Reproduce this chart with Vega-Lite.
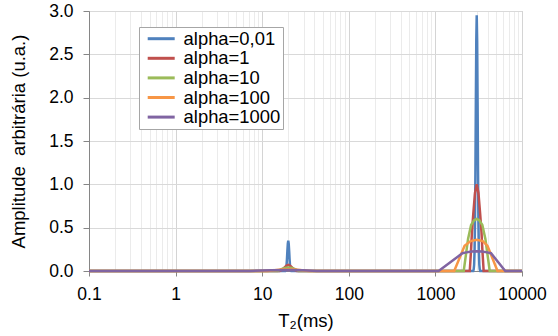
{
  "$schema": "https://vega.github.io/schema/vega-lite/v6.json",
  "width": 433,
  "height": 260,
  "autosize": {"type": "none"},
  "padding": {"left": 89, "top": 11, "right": 36, "bottom": 65},
  "background": "white",
  "config": {
    "font": "Liberation Sans",
    "view": {"stroke": "#bfbfbf", "strokeWidth": 1}
  },
  "data": {
    "values": [
      {"s": "alpha=0,01", "t": 0.1, "a": 0},
      {"s": "alpha=0,01", "t": 18.45, "a": 0},
      {"s": "alpha=0,01", "t": 18.67, "a": 0.008},
      {"s": "alpha=0,01", "t": 18.88, "a": 0.026},
      {"s": "alpha=0,01", "t": 19.10, "a": 0.067},
      {"s": "alpha=0,01", "t": 19.32, "a": 0.138},
      {"s": "alpha=0,01", "t": 19.54, "a": 0.232},
      {"s": "alpha=0,01", "t": 19.77, "a": 0.316},
      {"s": "alpha=0,01", "t": 20, "a": 0.35},
      {"s": "alpha=0,01", "t": 20.23, "a": 0.316},
      {"s": "alpha=0,01", "t": 20.47, "a": 0.232},
      {"s": "alpha=0,01", "t": 20.70, "a": 0.138},
      {"s": "alpha=0,01", "t": 20.94, "a": 0.067},
      {"s": "alpha=0,01", "t": 21.19, "a": 0.026},
      {"s": "alpha=0,01", "t": 21.43, "a": 0.008},
      {"s": "alpha=0,01", "t": 21.68, "a": 0},
      {"s": "alpha=0,01", "t": 2736, "a": 0},
      {"s": "alpha=0,01", "t": 2768, "a": 0.019},
      {"s": "alpha=0,01", "t": 2800, "a": 0.072},
      {"s": "alpha=0,01", "t": 2832, "a": 0.223},
      {"s": "alpha=0,01", "t": 2865, "a": 0.565},
      {"s": "alpha=0,01", "t": 2898, "a": 1.16},
      {"s": "alpha=0,01", "t": 2932, "a": 1.95},
      {"s": "alpha=0,01", "t": 2966, "a": 2.66},
      {"s": "alpha=0,01", "t": 3000, "a": 2.95},
      {"s": "alpha=0,01", "t": 3035, "a": 2.66},
      {"s": "alpha=0,01", "t": 3070, "a": 1.95},
      {"s": "alpha=0,01", "t": 3105, "a": 1.16},
      {"s": "alpha=0,01", "t": 3141, "a": 0.565},
      {"s": "alpha=0,01", "t": 3178, "a": 0.223},
      {"s": "alpha=0,01", "t": 3215, "a": 0.072},
      {"s": "alpha=0,01", "t": 3252, "a": 0.019},
      {"s": "alpha=0,01", "t": 3290, "a": 0},
      {"s": "alpha=0,01", "t": 10000, "a": 0},

      {"s": "alpha=1", "t": 0.1, "a": 0},
      {"s": "alpha=1", "t": 15.89, "a": 0},
      {"s": "alpha=1", "t": 16.64, "a": 0.01},
      {"s": "alpha=1", "t": 17.42, "a": 0.025},
      {"s": "alpha=1", "t": 18.24, "a": 0.045},
      {"s": "alpha=1", "t": 19.10, "a": 0.062},
      {"s": "alpha=1", "t": 20, "a": 0.07},
      {"s": "alpha=1", "t": 20.94, "a": 0.062},
      {"s": "alpha=1", "t": 21.93, "a": 0.045},
      {"s": "alpha=1", "t": 22.96, "a": 0.025},
      {"s": "alpha=1", "t": 24.05, "a": 0.01},
      {"s": "alpha=1", "t": 25.18, "a": 0},
      {"s": "alpha=1", "t": 2495, "a": 0},
      {"s": "alpha=1", "t": 2583, "a": 0.25},
      {"s": "alpha=1", "t": 2643, "a": 0.45},
      {"s": "alpha=1", "t": 2736, "a": 0.655},
      {"s": "alpha=1", "t": 2865, "a": 0.9},
      {"s": "alpha=1", "t": 3000, "a": 1.0},
      {"s": "alpha=1", "t": 3141, "a": 0.9},
      {"s": "alpha=1", "t": 3290, "a": 0.655},
      {"s": "alpha=1", "t": 3405, "a": 0.45},
      {"s": "alpha=1", "t": 3484, "a": 0.25},
      {"s": "alpha=1", "t": 3607, "a": 0},
      {"s": "alpha=1", "t": 10000, "a": 0},

      {"s": "alpha=10", "t": 0.1, "a": 0},
      {"s": "alpha=10", "t": 15.17, "a": 0},
      {"s": "alpha=10", "t": 16.64, "a": 0.022},
      {"s": "alpha=10", "t": 18.24, "a": 0.035},
      {"s": "alpha=10", "t": 20, "a": 0.04},
      {"s": "alpha=10", "t": 21.93, "a": 0.035},
      {"s": "alpha=10", "t": 24.05, "a": 0.022},
      {"s": "alpha=10", "t": 26.37, "a": 0},
      {"s": "alpha=10", "t": 2124, "a": 0},
      {"s": "alpha=10", "t": 2383, "a": 0.37},
      {"s": "alpha=10", "t": 2583, "a": 0.53},
      {"s": "alpha=10", "t": 2800, "a": 0.585},
      {"s": "alpha=10", "t": 3000, "a": 0.6},
      {"s": "alpha=10", "t": 3215, "a": 0.585},
      {"s": "alpha=10", "t": 3484, "a": 0.53},
      {"s": "alpha=10", "t": 3777, "a": 0.37},
      {"s": "alpha=10", "t": 4238, "a": 0},
      {"s": "alpha=10", "t": 10000, "a": 0},

      {"s": "alpha=100", "t": 0.1, "a": 0},
      {"s": "alpha=100", "t": 11.51, "a": 0},
      {"s": "alpha=100", "t": 13.84, "a": 0.009},
      {"s": "alpha=100", "t": 16.64, "a": 0.017},
      {"s": "alpha=100", "t": 20, "a": 0.02},
      {"s": "alpha=100", "t": 24.05, "a": 0.017},
      {"s": "alpha=100", "t": 28.91, "a": 0.009},
      {"s": "alpha=100", "t": 34.76, "a": 0},
      {"s": "alpha=100", "t": 1649, "a": 0},
      {"s": "alpha=100", "t": 2173, "a": 0.29},
      {"s": "alpha=100", "t": 2553, "a": 0.345},
      {"s": "alpha=100", "t": 3000, "a": 0.36},
      {"s": "alpha=100", "t": 3525, "a": 0.345},
      {"s": "alpha=100", "t": 4000, "a": 0.29},
      {"s": "alpha=100", "t": 5213, "a": 0},
      {"s": "alpha=100", "t": 10000, "a": 0},

      {"s": "alpha=1000", "t": 0.1, "a": 0},
      {"s": "alpha=1000", "t": 7.26, "a": 0},
      {"s": "alpha=1000", "t": 12.62, "a": 0.009},
      {"s": "alpha=1000", "t": 20, "a": 0.012},
      {"s": "alpha=1000", "t": 29.58, "a": 0.009},
      {"s": "alpha=1000", "t": 42.76, "a": 0},
      {"s": "alpha=1000", "t": 1089, "a": 0},
      {"s": "alpha=1000", "t": 2052, "a": 0.205},
      {"s": "alpha=1000", "t": 2276, "a": 0.215},
      {"s": "alpha=1000", "t": 2613, "a": 0.225},
      {"s": "alpha=1000", "t": 3000, "a": 0.228},
      {"s": "alpha=1000", "t": 3445, "a": 0.225},
      {"s": "alpha=1000", "t": 3955, "a": 0.215},
      {"s": "alpha=1000", "t": 4387, "a": 0.205},
      {"s": "alpha=1000", "t": 6414, "a": 0},
      {"s": "alpha=1000", "t": 10000, "a": 0}
    ]
  },
  "mark": {"type": "line", "strokeWidth": 2.5, "interpolate": "linear"},
  "encoding": {
    "x": {
      "field": "t",
      "type": "quantitative",
      "scale": {"type": "log", "domain": [0.1, 10000], "nice": false},
      "axis": {
        "values": [0.1,0.2,0.3,0.4,0.5,0.6,0.7,0.8,0.9,1,2,3,4,5,6,7,8,9,10,20,30,40,50,60,70,80,90,100,200,300,400,500,600,700,800,900,1000,2000,3000,4000,5000,6000,7000,8000,9000,10000],
        "format": "~g",
        "labelExpr": "indexof([0.1,1,10,100,1000,10000], datum.value) >= 0 ? datum.label : ''",
        "labelOverlap": false,
        "labelFlush": false,
        "labelFontSize": 17.5,
        "labelColor": "#000000",
        "labelPadding": 9,
        "tickSize": 5,
        "tickColor": "#868686",
        "tickOpacity": {"condition": {"test": "indexof([0.1,1,10,100,1000,10000], datum.value) >= 0", "value": 1}, "value": 0},
        "gridColor": {"condition": {"test": "indexof([0.1,1,10,100,1000,10000], datum.value) >= 0", "value": "#d4d4d4"}, "value": "#ebebeb"},
        "domainColor": "#868686",
        "title": "T₂(ms)",
        "titleFontSize": 18.5,
        "titleFontWeight": "normal",
        "titleColor": "#000000",
        "titlePadding": 9
      }
    },
    "y": {
      "field": "a",
      "type": "quantitative",
      "scale": {"domain": [0, 3], "nice": false},
      "axis": {
        "values": [0, 0.5, 1, 1.5, 2, 2.5, 3],
        "format": ".1f",
        "labelFontSize": 17.5,
        "labelColor": "#000000",
        "labelPadding": 10,
        "tickSize": 6,
        "tickColor": "#868686",
        "domainColor": "#868686",
        "gridColor": "#d9d9d9",
        "title": "Amplitude\u00a0 arbitrária (u.a.)",
        "titleFontSize": 18.5,
        "titleFontWeight": "normal",
        "titleColor": "#000000",
        "titlePadding": 20
      }
    },
    "color": {
      "field": "s",
      "type": "nominal",
      "scale": {
        "domain": ["alpha=0,01", "alpha=1", "alpha=10", "alpha=100", "alpha=1000"],
        "range": ["#4F81BD", "#C0504D", "#9BBB59", "#F79646", "#8064A2"]
      },
      "legend": {
        "orient": "none",
        "legendX": 50,
        "legendY": 16,
        "title": null,
        "labelFontSize": 18.4,
        "labelColor": "#000000",
        "labelExpr": "datum.label + '\u00a0\u00a0'",
        "symbolType": "M-1,0H8",
        "symbolSize": 36,
        "symbolStrokeWidth": 3,
        "labelOffset": 23.7,
        "rowPadding": 0.6,
        "padding": 2.5,
        "strokeColor": "#a6a6a6",
        "fillColor": "white"
      }
    }
  }
}
